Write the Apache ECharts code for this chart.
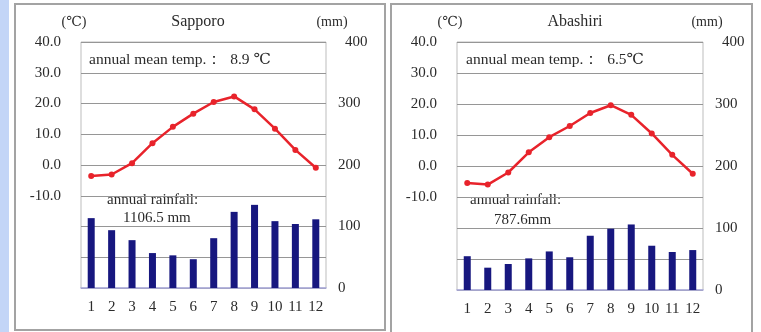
<!DOCTYPE html>
<html><head><meta charset="utf-8">
<script src="https://cdn.jsdelivr.net/npm/echarts@6/dist/echarts.min.js"></script>
<style>html,body{margin:0;padding:0;background:#fff;}#c{width:761px;height:332px;}</style>
</head><body><div id="c"></div>
<script>
var months = ['1','2','3','4','5','6','7','8','9','10','11','12'];
var sapporoTemp = [-3.6, -3.1, 0.6, 7.1, 12.4, 16.7, 20.5, 22.3, 18.1, 11.8, 4.9, -0.9];
var sapporoRain = [113.6, 94.0, 77.8, 56.8, 53.1, 46.8, 81.0, 123.8, 135.2, 108.7, 104.1, 111.7];
var abashiriTemp = [-5.5, -6.0, -2.1, 4.4, 9.3, 12.9, 17.1, 19.6, 16.5, 10.5, 3.6, -2.5];
var abashiriRain = [54.5, 36.0, 41.9, 51.0, 62.2, 52.8, 87.5, 98.9, 105.7, 71.4, 61.3, 64.4];
var tempTickLabels = ['40.0','30.0','20.0','10.0','0.0','-10.0'];
var rainTickLabels = ['400','300','200','100','0'];
var stations = ['Sapporo', 'Abashiri'];
var meanTempTexts = ['annual mean temp.：  8.9 ℃', 'annual mean temp.：  6.5℃'];
var rainfallTexts = [['annual rainfall:', '1106.5 mm'], ['annual rainfall:', '787.6mm']];

var FONT = '"Liberation Serif", "DejaVu Serif", serif';
var TXT = '#2b2b2b';
var chart = echarts.init(document.getElementById('c'), null, {renderer: 'canvas'});

var grids = [
  {left: 81, top: 42, width: 245, height: 246, show: true, borderColor: '#bdbdbd', borderWidth: 1},
  {left: 457, top: 42, width: 246, height: 248, show: true, borderColor: '#bdbdbd', borderWidth: 1}
];
var xAxes = [], yAxes = [], series = [];
[0,1].forEach(function(i){
  xAxes.push({type: 'category', gridIndex: i, data: months, boundaryGap: true,
    axisLine: {show: true, onZero: false, lineStyle: {color: '#a9a9dd', width: 1.5}},
    axisTick: {show: false},
    axisLabel: {fontFamily: FONT, fontSize: 15, color: TXT, margin: 12, interval: 0}});
  yAxes.push({type: 'value', gridIndex: i, min: -40, max: 40, interval: 10, position: 'left',
    axisLine: {show: false}, axisTick: {show: false},
    splitLine: {show: true, lineStyle: {color: '#969696', width: 1}},
    axisLabel: {fontFamily: FONT, fontSize: 15, color: TXT, margin: 20,
      formatter: function(v){ var s = v.toFixed(1); return tempTickLabels.indexOf(s) >= 0 ? s : ''; }}});
  yAxes.push({type: 'value', gridIndex: i, min: 0, max: 400, interval: 50, position: 'right',
    axisLine: {show: false}, axisTick: {show: false}, splitLine: {show: false},
    axisLabel: {fontFamily: FONT, fontSize: 15, color: TXT, margin: 12,
      formatter: function(v){ var s = String(v); if (rainTickLabels.indexOf(s) < 0) return ''; return s === '400' ? '{t|' + s + '}' : s; },
      rich: {t: {fontFamily: FONT, fontSize: 15, color: TXT, padding: [0,0,0,7]}}}});
});
var temps = [sapporoTemp, abashiriTemp], rains = [sapporoRain, abashiriRain];
[0,1].forEach(function(i){
  series.push({type: 'bar', xAxisIndex: i, yAxisIndex: i*2+1, data: rains[i], barWidth: 7,
    itemStyle: {color: '#17177f'}, z: 2});
  series.push({type: 'line', xAxisIndex: i, yAxisIndex: i*2, data: temps[i],
    symbol: 'circle', symbolSize: 6, lineStyle: {color: '#e8232b', width: 2.5},
    itemStyle: {color: '#e8232b'}, z: 3});
});

function txt(x, y, s, size, align){
  return {type: 'text', x: x, y: y, silent: true,
    style: {text: s, font: size + 'px ' + FONT, fill: TXT, align: align || 'left', verticalAlign: 'middle'}};
}
var g = [
  {type: 'rect', shape: {x: 0, y: 0, width: 9, height: 332}, style: {fill: '#c3d5f7'}, silent: true},
  {type: 'rect', shape: {x: 15, y: 4, width: 370, height: 326}, style: {fill: 'none', stroke: '#a3a3a3', lineWidth: 2}, silent: true},
  {type: 'rect', shape: {x: 391, y: 4, width: 361, height: 340}, style: {fill: 'none', stroke: '#a3a3a3', lineWidth: 2}, silent: true},
  txt(198, 22, stations[0], 16, 'center'),
  txt(575, 22, stations[1], 16, 'center'),
  txt(74, 22, '(℃)', 14, 'center'),
  txt(450, 22, '(℃)', 14, 'center'),
  txt(332, 22, '(mm)', 14, 'center'),
  txt(707, 22, '(mm)', 14, 'center'),
  txt(89, 60, meanTempTexts[0], 15.5),
  txt(466, 60, meanTempTexts[1], 15.5),
  txt(107, 200, rainfallTexts[0][0], 15),
  txt(123, 218, rainfallTexts[0][1], 15),
  txt(470, 200, rainfallTexts[1][0], 15),
  txt(494, 220, rainfallTexts[1][1], 15)
];

chart.setOption({
  animation: false,
  backgroundColor: '#ffffff',
  grid: grids, xAxis: xAxes, yAxis: yAxes, series: series,
  graphic: g
});
</script></body></html>
